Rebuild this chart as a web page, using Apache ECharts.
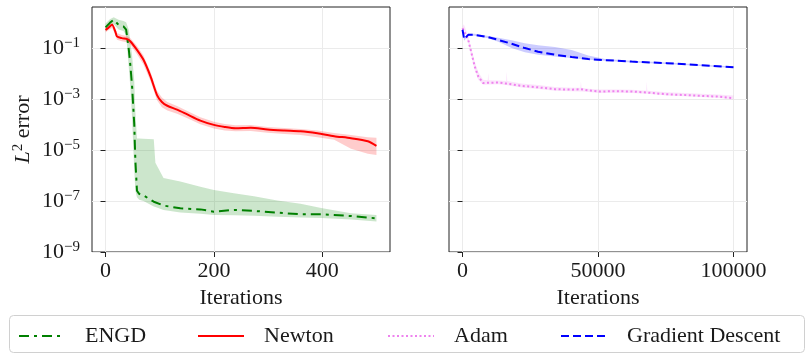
<!DOCTYPE html>
<html>
<head>
<meta charset="utf-8">
<script src="https://cdn.jsdelivr.net/npm/echarts@6/dist/echarts.min.js"></script>
<style>
  html, body { margin: 0; padding: 0; background: #fff; }
  #chart { width: 808px; height: 355px; }
</style>
</head>
<body>
<div id="chart"></div>
<script>
// all y values are log10 of the L2 error
const engdIter = [0, 8, 15, 24, 33, 38, 43, 46, 49, 53, 55, 58, 62, 70, 89, 92, 107, 138, 175, 200, 237, 274, 317, 360, 398, 453, 500]
const engdMean = [-0.2, -0.02, 0.1, -0.1, -0.16, -0.29, -1.08, -1.73, -2.52, -4.0, -5.4, -6.6, -6.72, -6.78, -7.03, -7.05, -7.18, -7.29, -7.33, -7.42, -7.35, -7.39, -7.46, -7.52, -7.52, -7.59, -7.68]
const engdHigh = [-0.05, 0.12, 0.2, 0.1, 0.05, 0.0, -0.3, -0.8, -1.3, -2.3, -3.5, -4.55, -4.55, -4.56, -4.58, -5.5, -6.1, -6.24, -6.44, -6.57, -6.7, -6.82, -6.98, -7.11, -7.28, -7.48, -7.55]
const engdLow = [-0.35, -0.2, -0.08, -0.28, -0.34, -0.5, -1.8, -2.6, -3.8, -5.8, -6.6, -6.85, -6.95, -7.0, -7.22, -7.24, -7.35, -7.45, -7.5, -7.55, -7.56, -7.58, -7.62, -7.65, -7.67, -7.73, -7.8]

const newtonIter = [0, 6, 12, 18, 21, 30, 40, 46, 58, 70, 83, 95, 104, 114, 132, 150, 175, 200, 220, 240, 268, 299, 330, 360, 391, 422, 453, 484, 500]
const newtonMean = [-0.3, -0.2, -0.1, -0.36, -0.55, -0.62, -0.66, -0.75, -1.08, -1.47, -2.12, -2.85, -3.12, -3.27, -3.42, -3.6, -3.85, -4.02, -4.1, -4.15, -4.13, -4.2, -4.24, -4.27, -4.35, -4.46, -4.54, -4.66, -4.84]
const newtonHigh = [-0.2, -0.1, 0.0, -0.26, -0.42, -0.5, -0.54, -0.62, -0.93, -1.3, -1.95, -2.68, -2.95, -3.12, -3.28, -3.47, -3.72, -3.9, -3.98, -4.03, -4.02, -4.1, -4.14, -4.18, -4.24, -4.34, -4.42, -4.5, -4.52]
const newtonLow = [-0.4, -0.3, -0.22, -0.48, -0.68, -0.74, -0.78, -0.88, -1.25, -1.65, -2.3, -3.05, -3.33, -3.46, -3.58, -3.75, -3.99, -4.16, -4.24, -4.27, -4.26, -4.33, -4.38, -4.42, -4.5, -4.6, -4.95, -5.15, -5.2]

const adamIter = [0, 500, 2100, 3300, 4500, 5800, 7600, 9300, 9500, 9700, 13200, 16100, 16300, 16500, 21800, 28000, 34100, 40300, 43500, 43700, 43900, 46400, 50700, 56500, 62400, 67800, 68000, 68200, 75400, 82000, 87700, 94000, 100000]
const adamMean = [-0.23, -0.16, -0.69, -1.21, -1.73, -2.12, -2.38, -2.37, -2.3, -2.37, -2.36, -2.4, -2.35, -2.41, -2.49, -2.55, -2.62, -2.64, -2.62, -2.55, -2.63, -2.67, -2.71, -2.7, -2.71, -2.75, -2.72, -2.76, -2.82, -2.85, -2.88, -2.91, -2.97]
const adamHigh = [-0.15, -0.08, -0.55, -1.05, -1.55, -1.95, -2.25, -2.27, -1.99, -2.27, -2.28, -2.3, -1.93, -2.3, -2.4, -2.46, -2.53, -2.56, -2.56, -2.32, -2.56, -2.6, -2.63, -2.63, -2.64, -2.68, -2.32, -2.68, -2.74, -2.77, -2.8, -2.83, -2.87]
const adamLow = [-0.3, -0.25, -0.8, -1.35, -1.88, -2.25, -2.45, -2.44, -2.44, -2.44, -2.43, -2.46, -2.46, -2.47, -2.55, -2.61, -2.68, -2.7, -2.71, -2.71, -2.71, -2.73, -2.77, -2.76, -2.77, -2.8, -2.8, -2.8, -2.87, -2.9, -2.93, -2.96, -3.02]

const gdIter = [0, 600, 2100, 4500, 9500, 13200, 18100, 23000, 27900, 34100, 40300, 46400, 52600, 62400, 75400, 87700, 100000]
const gdMean = [-0.29, -0.66, -0.49, -0.49, -0.58, -0.69, -0.84, -1.01, -1.15, -1.27, -1.36, -1.44, -1.48, -1.54, -1.6, -1.68, -1.76]
const gdHigh = [-0.25, -0.6, -0.45, -0.45, -0.54, -0.6, -0.7, -0.82, -0.9, -0.97, -1.08, -1.3, -1.44, -1.51, -1.57, -1.65, -1.73]
const gdLow = [-0.33, -0.72, -0.53, -0.53, -0.62, -0.76, -1.01, -1.17, -1.27, -1.34, -1.4, -1.47, -1.51, -1.57, -1.63, -1.71, -1.79]

const yTicks = [-9, -7, -5, -3, -1]
const leftTicks = [0, 200, 400]
const rightTicks = [0, 50000, 100000]

// the y axis is linear in log10(error), shifted so the bottom (1e-9) sits at 0
const SHIFT = 9
const FONT = 'Liberation Serif'
const INK = '#1a1a1a'

const pts = (xs, ys) => xs.map((x, i) => [x, ys[i] + SHIFT])

// shaded min/max band, drawn as one polygon through the axis scales
function band(gi, xs, lo, hi, fill) {
  return {
    type: 'custom', xAxisIndex: gi, yAxisIndex: gi, silent: true, z: 1, clip: true,
    data: xs.map((x, i) => [x, lo[i] + SHIFT, hi[i] + SHIFT]),
    encode: { x: 0, y: [1, 2] },
    renderItem: (params, api) => {
      if (params.dataIndex !== 0) return null
      const top = xs.map((x, i) => api.coord([x, hi[i] + SHIFT]))
      const bot = xs.map((x, i) => api.coord([x, lo[i] + SHIFT])).reverse()
      return { type: 'polygon', shape: { points: top.concat(bot) }, style: { fill } }
    },
  }
}

function curve(name, gi, xs, ys, color, type, width, smooth) {
  return {
    name, type: 'line', xAxisIndex: gi, yAxisIndex: gi,
    data: pts(xs, ys), symbol: 'none', z: 3, smooth: smooth || false,
    itemStyle: { color },
    lineStyle: { color, width, type },
  }
}

const chart = echarts.init(document.getElementById('chart'), null, { renderer: 'canvas' })

const gridBox = { top: 7, height: 245, width: 298, show: true, borderColor: '#222', borderWidth: 1, backgroundColor: '#fff' }
const tickStyle = (vals) => ({ show: true, length: 5, lineStyle: { color: '#222', width: 1 }, customValues: vals })
const split = { show: true, lineStyle: { color: '#ebebeb', width: 1 } }

function xAxis(gi, min, max, ticks) {
  return {
    type: 'value', gridIndex: gi, min, max,
    axisLine: { show: false },
    axisTick: tickStyle(ticks),
    splitLine: split,
    axisLabel: { customValues: ticks, margin: 8, fontFamily: FONT, fontSize: 22, color: INK, formatter: (v) => String(v) },
    name: 'Iterations', nameLocation: 'middle', nameGap: 33,
    nameTextStyle: { fontFamily: FONT, fontSize: 22, color: INK },
  }
}

const expLabel = {
  customValues: yTicks.map(v => v + SHIFT),
  margin: 12,
  formatter: (v) => {
    const e = Math.round(v - SHIFT)
    return '{b|10}{s|' + (e < 0 ? '\u2212' : '') + Math.abs(e) + '}'
  },
  rich: {
    b: { fontFamily: FONT, fontSize: 22, color: INK },
    s: { fontFamily: FONT, fontSize: 15, color: INK, lineHeight: 15, padding: [0, 0, 10, 0] },
  },
}

function yAxis(gi, withLabels) {
  const ax = {
    type: 'value', gridIndex: gi, min: 0, max: 9.6,
    axisLine: { show: false },
    axisTick: tickStyle(yTicks.map(v => v + SHIFT)),
    splitLine: split,
    axisLabel: withLabels ? expLabel : { show: false },
  }
  if (withLabels) {
    Object.assign(ax, {
      name: '{i|L}{s|2} error', nameLocation: 'middle', nameRotate: 90, nameGap: 58,
      nameTextStyle: {
        fontFamily: FONT, fontSize: 22, color: INK,
        rich: {
          i: { fontFamily: FONT, fontSize: 22, fontStyle: 'italic', color: INK },
          s: { fontFamily: FONT, fontSize: 15, color: INK, lineHeight: 15, padding: [0, 0, 10, 0] },
        },
      },
    })
  }
  return ax
}

function legend(name, left) {
  return {
    data: [name], left, top: 325, padding: 0,
    itemWidth: 46, itemHeight: 14,
    itemStyle: { color: 'rgba(0,0,0,0)', borderWidth: 0, opacity: 0 },
    textStyle: { fontFamily: FONT, fontSize: 22, color: INK, padding: [0, 0, 0, 15] },
    selectedMode: false,
  }
}

chart.setOption({
  animation: false,
  grid: [
    { ...gridBox, left: 92 },
    { ...gridBox, left: 449 },
  ],
  xAxis: [xAxis(0, -25, 525, leftTicks), xAxis(1, -5000, 105000, rightTicks)],
  yAxis: [yAxis(0, true), yAxis(1, false)],
  legend: [
    legend('ENGD', 18),
    legend('Newton', 197),
    legend('Adam', 387),
    legend('Gradient Descent', 560),
  ],
  graphic: [{
    type: 'rect', z: -10,
    shape: { x: 9.5, y: 315.5, width: 795, height: 37, r: 4 },
    style: { fill: 'rgba(0,0,0,0)', stroke: '#d0d0d0', lineWidth: 1 },
  }],
  series: [
    band(0, engdIter, engdLow, engdHigh, 'rgba(0,128,0,0.2)'),
    band(0, newtonIter, newtonLow, newtonHigh, 'rgba(255,0,0,0.2)'),
    curve('ENGD', 0, engdIter, engdMean, '#008000', [10, 5, 3, 5], 2),
    curve('Newton', 0, newtonIter, newtonMean, '#ff0000', 'solid', 2, 0.25),
    band(1, adamIter, adamLow, adamHigh, 'rgba(238,130,238,0.22)'),
    band(1, gdIter, gdLow, gdHigh, 'rgba(0,0,255,0.2)'),
    curve('Adam', 1, adamIter, adamMean, '#ee82ee', [2, 2.5], 2),
    curve('Gradient Descent', 1, gdIter, gdMean, '#0000ff', [8, 4], 2),
  ],
})
</script>
</body>
</html>
